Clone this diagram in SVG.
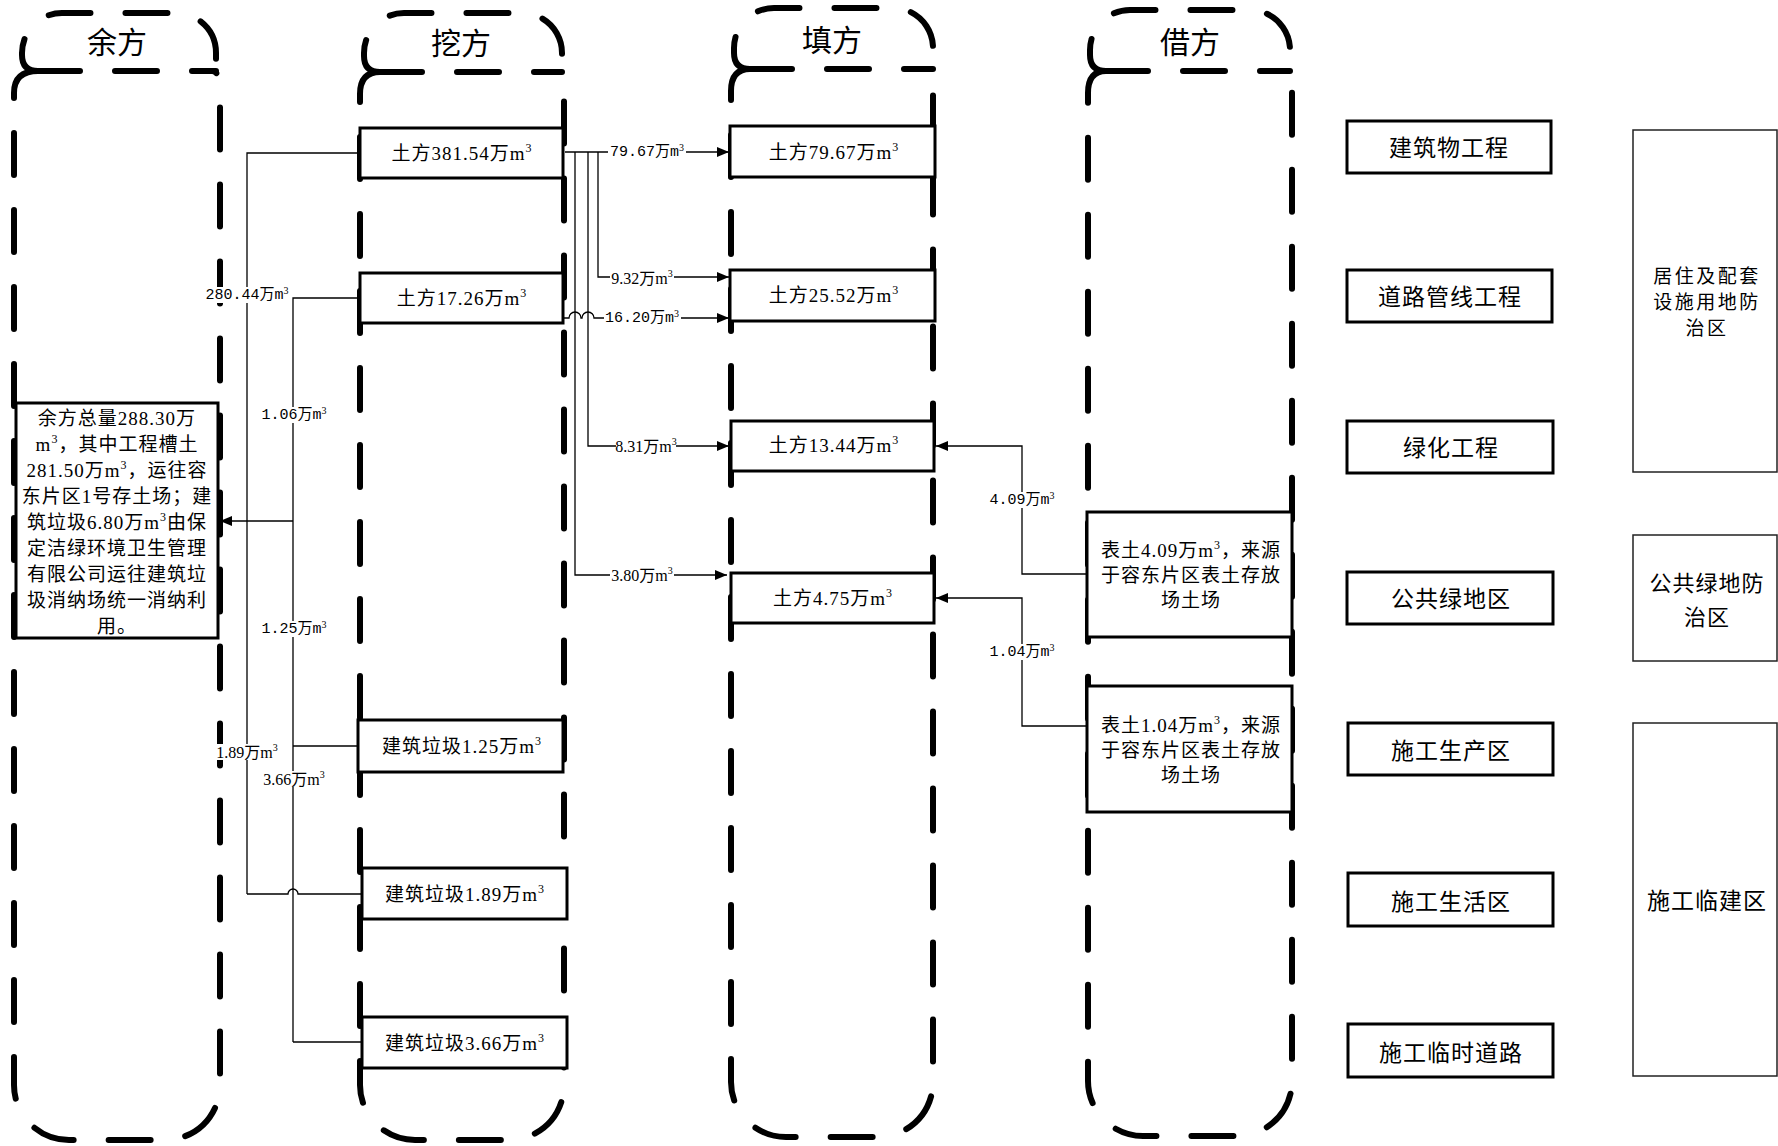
<svg xmlns="http://www.w3.org/2000/svg" width="1778" height="1146" viewBox="0 0 1778 1146">
<defs>
<marker id="ah" markerUnits="userSpaceOnUse" markerWidth="12" markerHeight="10" refX="12" refY="5" orient="auto"><path d="M0,0 L12,5 L0,10 z" fill="#000"/></marker>
<style>
.lane{fill:none;stroke:#000;stroke-width:6;stroke-dasharray:42 35;stroke-linecap:round}
.box{fill:#fff;stroke:#000;stroke-width:3}
.rbox{fill:#fff;stroke:#000;stroke-width:3}
.zbox{fill:#fff;stroke:#222;stroke-width:1.5}
.t{font-family:"Liberation Serif","Noto Sans CJK SC",serif;font-size:19px;letter-spacing:1px;text-anchor:middle;dominant-baseline:central;fill:#000}
.title{font-family:"Liberation Serif","Noto Sans CJK SC",serif;font-size:30px;text-anchor:middle;dominant-baseline:central;fill:#000}
.r{font-family:"Noto Sans CJK SC",sans-serif;font-size:23px;letter-spacing:1px;text-anchor:middle;dominant-baseline:central;fill:#000}
.r2{font-family:"Noto Sans CJK SC",sans-serif;font-size:22px;letter-spacing:1px;text-anchor:middle;dominant-baseline:central;fill:#000}
.rz{font-family:"Noto Sans CJK SC",sans-serif;font-size:19px;letter-spacing:2.5px;text-anchor:middle;dominant-baseline:central;fill:#000}
.lm{font-family:"Liberation Mono","Noto Sans CJK SC",monospace;font-size:15px;text-anchor:middle;dominant-baseline:central;fill:#000}
.ls{font-family:"Liberation Serif","Noto Sans CJK SC",serif;font-size:16px;text-anchor:middle;dominant-baseline:central;fill:#000}
.s{font-family:"Liberation Serif",serif;font-size:12px}
.ss{font-family:"Liberation Serif",serif;font-size:10px}
.bg{fill:#fff;stroke:none}
</style>
</defs>
<rect x="0" y="0" width="1778" height="1146" fill="#fff"/>

<g id="lane-yufang">
<path class="lane" d="M38,71 Q22,71 22,55 L22,53 A40,40 0 0 1 62,13 L176,13 A40,40 0 0 1 216,53 L216,71"/>
<path class="lane" d="M38,71 L216,71"/>
<path class="lane" d="M38,71 Q14,71 14,93 L14,1085 A55,55 0 0 0 69,1140 L165,1140 A55,55 0 0 0 220,1085 L220,91 Q220,71 212,71"/>
<text class="title" x="117" y="42">余方</text>
</g>
<g id="lane-wafang">
<path class="lane" d="M380,72 Q364,72 364,56 L364,53 A40,40 0 0 1 404,13 L522,13 A40,40 0 0 1 562,53 L562,72"/>
<path class="lane" d="M380,72 L562,72"/>
<path class="lane" d="M380,72 Q360,72 360,94 L360,1085 A55,55 0 0 0 415,1140 L509,1140 A55,55 0 0 0 564,1085 L564,92 Q564,72 556,72"/>
<text class="title" x="461" y="43">挖方</text>
</g>
<g id="lane-tianfang">
<path class="lane" d="M750,69 Q734,69 734,53 L734,48 A40,40 0 0 1 774,8 L893,8 A40,40 0 0 1 933,48 L933,69"/>
<path class="lane" d="M750,69 L933,69"/>
<path class="lane" d="M750,69 Q731,69 731,91 L731,1082 A55,55 0 0 0 786,1137 L878,1137 A55,55 0 0 0 933,1082 L933,89 Q933,69 925,69"/>
<text class="title" x="832" y="40">填方</text>
</g>
<g id="lane-jiefang">
<path class="lane" d="M1106,71 Q1090,71 1090,55 L1090,50 A40,40 0 0 1 1130,10 L1250,10 A40,40 0 0 1 1290,50 L1290,71"/>
<path class="lane" d="M1106,71 L1290,71"/>
<path class="lane" d="M1106,71 Q1088,71 1088,93 L1088,1081 A55,55 0 0 0 1143,1136 L1237,1136 A55,55 0 0 0 1292,1081 L1292,91 Q1292,71 1284,71"/>
<text class="title" x="1190" y="42">借方</text>
</g>

<g id="node-yufang-total">
<rect class="box" x="16" y="403" width="202" height="235"/>
<text class="t" x="117" y="418">余方总量288.30万</text>
<text class="t" x="117" y="444">m<tspan class="s" baseline-shift="45%">3</tspan>，其中工程槽土</text>
<text class="t" x="117" y="470">281.50万m<tspan class="s" baseline-shift="45%">3</tspan>，运往容</text>
<text class="t" x="117" y="496">东片区1号存土场；建</text>
<text class="t" x="117" y="522">筑垃圾6.80万m<tspan class="s" baseline-shift="45%">3</tspan>由保</text>
<text class="t" x="117" y="548">定洁绿环境卫生管理</text>
<text class="t" x="117" y="574">有限公司运往建筑垃</text>
<text class="t" x="117" y="600">圾消纳场统一消纳利</text>
<text class="t" x="117" y="626">用。</text>
</g>

<g id="node-wa-1"><rect class="box" x="360" y="128" width="203" height="50"/><text class="t" x="462" y="153">土方381.54万m<tspan class="s" baseline-shift="45%">3</tspan></text></g>
<g id="node-wa-2"><rect class="box" x="360" y="273" width="203" height="50"/><text class="t" x="462" y="298">土方17.26万m<tspan class="s" baseline-shift="45%">3</tspan></text></g>
<g id="node-wa-3"><rect class="box" x="358" y="720" width="205" height="52"/><text class="t" x="462" y="746">建筑垃圾1.25万m<tspan class="s" baseline-shift="45%">3</tspan></text></g>
<g id="node-wa-4"><rect class="box" x="362" y="868" width="205" height="51"/><text class="t" x="465" y="894">建筑垃圾1.89万m<tspan class="s" baseline-shift="45%">3</tspan></text></g>
<g id="node-wa-5"><rect class="box" x="362" y="1017" width="205" height="51"/><text class="t" x="465" y="1043">建筑垃圾3.66万m<tspan class="s" baseline-shift="45%">3</tspan></text></g>

<g id="node-tian-1"><rect class="box" x="730" y="126" width="205" height="51"/><text class="t" x="834" y="152">土方79.67万m<tspan class="s" baseline-shift="45%">3</tspan></text></g>
<g id="node-tian-2"><rect class="box" x="730" y="270" width="205" height="51"/><text class="t" x="834" y="295">土方25.52万m<tspan class="s" baseline-shift="45%">3</tspan></text></g>
<g id="node-tian-3"><rect class="box" x="731" y="421" width="203" height="50"/><text class="t" x="834" y="445">土方13.44万m<tspan class="s" baseline-shift="45%">3</tspan></text></g>
<g id="node-tian-4"><rect class="box" x="731" y="573" width="203" height="50"/><text class="t" x="833" y="598">土方4.75万m<tspan class="s" baseline-shift="45%">3</tspan></text></g>

<g id="node-jie-1"><rect class="box" x="1087" y="512" width="205" height="125"/>
<text class="t" x="1191" y="550">表土4.09万m<tspan class="s" baseline-shift="45%">3</tspan>，来源</text>
<text class="t" x="1191" y="575">于容东片区表土存放</text>
<text class="t" x="1191" y="600">场土场</text></g>
<g id="node-jie-2"><rect class="box" x="1087" y="686" width="205" height="126"/>
<text class="t" x="1191" y="725">表土1.04万m<tspan class="s" baseline-shift="45%">3</tspan>，来源</text>
<text class="t" x="1191" y="750">于容东片区表土存放</text>
<text class="t" x="1191" y="775">场土场</text></g>

<g id="node-r1"><rect class="rbox" x="1347" y="121" width="204" height="52"/><text class="r" x="1449" y="146">建筑物工程</text></g>
<g id="node-r2"><rect class="rbox" x="1347" y="270" width="205" height="52"/><text class="r" x="1450" y="295">道路管线工程</text></g>
<g id="node-r3"><rect class="rbox" x="1347" y="421" width="206" height="52"/><text class="r" x="1451" y="446">绿化工程</text></g>
<g id="node-r4"><rect class="rbox" x="1347" y="572" width="206" height="52"/><text class="r" x="1451" y="597">公共绿地区</text></g>
<g id="node-r5"><rect class="rbox" x="1348" y="723" width="205" height="52"/><text class="r" x="1451" y="749">施工生产区</text></g>
<g id="node-r6"><rect class="rbox" x="1348" y="873" width="205" height="53"/><text class="r" x="1451" y="900">施工生活区</text></g>
<g id="node-r7"><rect class="rbox" x="1348" y="1024" width="205" height="53"/><text class="r" x="1451" y="1051">施工临时道路</text></g>

<g id="node-z1"><rect class="zbox" x="1633" y="130" width="144" height="342"/>
<text class="rz" x="1707" y="274">居住及配套</text>
<text class="rz" x="1707" y="300">设施用地防</text>
<text class="rz" x="1707" y="326">治区</text></g>
<g id="node-z2"><rect class="zbox" x="1633" y="535" width="144" height="126"/>
<text class="r2" x="1707" y="581">公共绿地防</text>
<text class="r2" x="1707" y="615">治区</text></g>
<g id="node-z3"><rect class="zbox" x="1633" y="723" width="144" height="353"/>
<text class="r" x="1707" y="899">施工临建区</text></g>

<g id="connectors">
<g fill="none" stroke="#000" stroke-width="1.3">
<path d="M360,153 H247 V894"/>
<path d="M360,298 H293 V1042"/>
<path d="M358,746 H293"/>
<path d="M362,1042 H293"/>
<path d="M362,894 H298 A5,5 0 0 0 288,894 H247"/>
<path d="M293,521 H220" marker-end="url(#ah)" stroke-width="1.6"/>
<path d="M565,152 H729" marker-end="url(#ah)"/>
<path d="M598,152 V277 H729" marker-end="url(#ah)"/>
<path d="M588,152 V446 H729" marker-end="url(#ah)"/>
<path d="M575,152 V575 H727" marker-end="url(#ah)"/>
<path d="M563,318 H569 A6,6 0 0 1 581,318 H582 A6,6 0 0 1 594,318 H729" marker-end="url(#ah)"/>
<path d="M1087,574 H1022 V446 H936" marker-end="url(#ah)"/>
<path d="M1087,726 H1022 V598 H936" marker-end="url(#ah)"/>
</g>
<g id="connector-labels">
<rect class="bg" x="608" y="144" width="78" height="16"/><text class="lm" x="647" y="152">79.67万m<tspan class="ss" baseline-shift="45%">3</tspan></text>
<rect class="bg" x="610" y="269" width="64" height="17"/><text class="ls" x="642" y="278">9.32万m<tspan class="ss" baseline-shift="45%">3</tspan></text>
<rect class="bg" x="604" y="310" width="77" height="16"/><text class="lm" x="642" y="318">16.20万m<tspan class="ss" baseline-shift="45%">3</tspan></text>
<rect class="bg" x="616" y="438" width="60" height="16"/><text class="ls" x="646" y="446">8.31万m<tspan class="ss" baseline-shift="45%">3</tspan></text>
<rect class="bg" x="610" y="567" width="64" height="16"/><text class="ls" x="642" y="575">3.80万m<tspan class="ss" baseline-shift="45%">3</tspan></text>
<rect class="bg" x="206" y="287" width="82" height="16"/><text class="lm" x="247" y="295">280.44万m<tspan class="ss" baseline-shift="45%">3</tspan></text>
<rect class="bg" x="261" y="407" width="67" height="16"/><text class="lm" x="294" y="415">1.06万m<tspan class="ss" baseline-shift="45%">3</tspan></text>
<rect class="bg" x="261" y="621" width="67" height="16"/><text class="lm" x="294" y="629">1.25万m<tspan class="ss" baseline-shift="45%">3</tspan></text>
<rect class="bg" x="216" y="744" width="63" height="16"/><text class="ls" x="247" y="752">1.89万m<tspan class="ss" baseline-shift="45%">3</tspan></text>
<rect class="bg" x="262" y="771" width="64" height="16"/><text class="ls" x="294" y="779">3.66万m<tspan class="ss" baseline-shift="45%">3</tspan></text>
<rect class="bg" x="988" y="492" width="68" height="16"/><text class="lm" x="1022" y="500">4.09万m<tspan class="ss" baseline-shift="45%">3</tspan></text>
<rect class="bg" x="988" y="644" width="68" height="16"/><text class="lm" x="1022" y="652">1.04万m<tspan class="ss" baseline-shift="45%">3</tspan></text>
</g>
</g>
</svg>
